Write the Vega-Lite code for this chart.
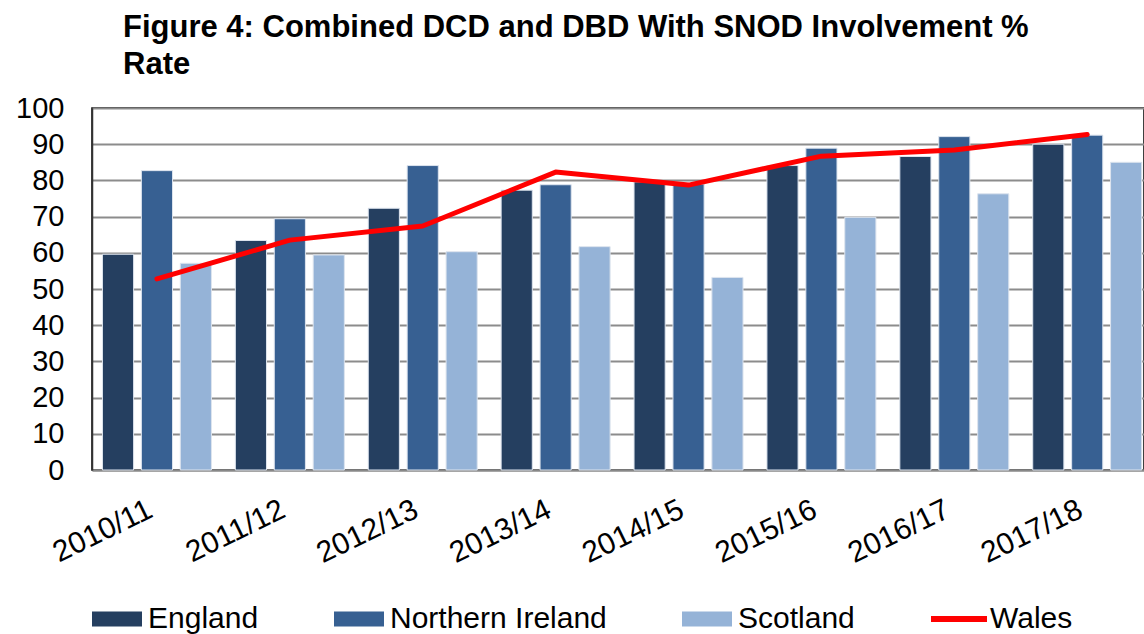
{
  "$schema": "https://vega.github.io/schema/vega-lite/v6.json",
  "width": 1052,
  "height": 362,
  "autosize": {"type": "none"},
  "padding": {"left": 92, "top": 108, "right": 0, "bottom": 164},
  "background": "white",
  "config": {
    "font": "Liberation Sans",
    "view": {"stroke": "#000000", "strokeWidth": 1.5},
    "axis": {"labelFont": "Liberation Sans", "labelColor": "#000000"}
  },
  "title": {
    "text": ["Figure 4: Combined DCD and DBD With SNOD Involvement %", "Rate"],
    "anchor": "start",
    "frame": "group",
    "dx": 31,
    "offset": 13,
    "font": "Liberation Sans",
    "fontSize": 31,
    "fontWeight": "bold",
    "lineHeight": 37,
    "color": "#000000"
  },
  "data": {
    "values": [
      {"year": "2010/11", "country": "England", "value": 59.6},
      {"year": "2010/11", "country": "Northern Ireland", "value": 82.7},
      {"year": "2010/11", "country": "Scotland", "value": 57.1},
      {"year": "2010/11", "country": "Wales", "value": 52.8},
      {"year": "2011/12", "country": "England", "value": 63.4},
      {"year": "2011/12", "country": "Northern Ireland", "value": 69.4},
      {"year": "2011/12", "country": "Scotland", "value": 59.4},
      {"year": "2011/12", "country": "Wales", "value": 63.5},
      {"year": "2012/13", "country": "England", "value": 72.3},
      {"year": "2012/13", "country": "Northern Ireland", "value": 84.1},
      {"year": "2012/13", "country": "Scotland", "value": 60.3},
      {"year": "2012/13", "country": "Wales", "value": 67.4},
      {"year": "2013/14", "country": "England", "value": 77.3},
      {"year": "2013/14", "country": "Northern Ireland", "value": 78.8},
      {"year": "2013/14", "country": "Scotland", "value": 61.7},
      {"year": "2013/14", "country": "Wales", "value": 82.3},
      {"year": "2014/15", "country": "England", "value": 79.6},
      {"year": "2014/15", "country": "Northern Ireland", "value": 79.0},
      {"year": "2014/15", "country": "Scotland", "value": 53.2},
      {"year": "2014/15", "country": "Wales", "value": 78.7},
      {"year": "2015/16", "country": "England", "value": 84.1},
      {"year": "2015/16", "country": "Northern Ireland", "value": 88.9},
      {"year": "2015/16", "country": "Scotland", "value": 69.8},
      {"year": "2015/16", "country": "Wales", "value": 86.7},
      {"year": "2016/17", "country": "England", "value": 86.6},
      {"year": "2016/17", "country": "Northern Ireland", "value": 92.1},
      {"year": "2016/17", "country": "Scotland", "value": 76.3},
      {"year": "2016/17", "country": "Wales", "value": 88.4},
      {"year": "2017/18", "country": "England", "value": 90.0},
      {"year": "2017/18", "country": "Northern Ireland", "value": 92.5},
      {"year": "2017/18", "country": "Scotland", "value": 85.0},
      {"year": "2017/18", "country": "Wales", "value": 92.7}
    ]
  },
  "encoding": {
    "x": {
      "field": "year",
      "type": "nominal",
      "sort": null,
      "scale": {"paddingInner": 0.18, "paddingOuter": 0.048, "align": 0.82},
      "axis": {
        "title": null,
        "labelAngle": -26,
        "labelAlign": "right",
        "labelBaseline": "top",
        "labelFontSize": 30,
        "labelPadding": 24,
        "labelOffset": -13,
        "ticks": false,
        "domainColor": "#888888",
        "domainWidth": 2,
        "grid": false
      }
    },
    "y": {
      "field": "value",
      "type": "quantitative",
      "scale": {"domain": [0, 100], "nice": false},
      "axis": {
        "title": null,
        "values": [0, 10, 20, 30, 40, 50, 60, 70, 80, 90, 100],
        "labelFontSize": 29,
        "labelPadding": 28,
        "ticks": false,
        "domainColor": "#333333",
        "domainWidth": 1.5,
        "gridColor": "#8c8c8c",
        "gridWidth": 1.8
      }
    },
    "color": {
      "field": "country",
      "type": "nominal",
      "scale": {
        "domain": ["England", "Northern Ireland", "Scotland", "Wales"],
        "range": ["#253f60", "#376092", "#95b3d7", "#ff0000"]
      },
      "legend": {
        "title": null,
        "orient": "bottom",
        "direction": "horizontal",
        "offset": 25,
        "labelFontSize": 30,
        "labelFont": "Liberation Sans",
        "labelColor": "#000000",
        "labelOffset": 6,
        "labelLimit": 0,
        "columnPadding": 75,
        "symbolSize": 2500,
        "symbolStrokeWidth": 0,
        "encode": {
          "symbols": {
            "update": {
              "shape": {"signal": "datum.value === 'Wales' ? 'M-1.12,-0.12H1.12V0.12H-1.12Z' : 'M-1,-0.3H1V0.3H-1Z'"},
              "fill": {"scale": "color", "field": "value"},
              "stroke": {"value": "transparent"},
              "opacity": {"value": 1},
              "fillOpacity": {"value": 1}
            }
          }
        }
      }
    }
  },
  "layer": [
    {
      "transform": [{"filter": "datum.country !== 'Wales'"}],
      "mark": {"type": "bar", "stroke": "#dde4ee", "strokeWidth": 1},
      "encoding": {
        "xOffset": {
          "field": "country",
          "type": "nominal",
          "scale": {"paddingInner": 0.2, "paddingOuter": 0}
        }
      }
    },
    {
      "transform": [{"filter": "datum.country === 'Wales'"}],
      "mark": {"type": "line", "strokeWidth": 5, "strokeCap": "round", "strokeJoin": "round"},
      "encoding": {}
    }
  ]
}
